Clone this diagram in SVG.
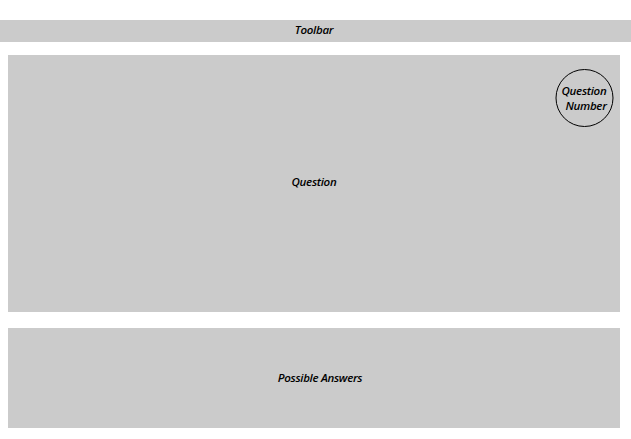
<svg xmlns="http://www.w3.org/2000/svg" width="631" height="439" viewBox="0 0 631 439">
<style>
.box{fill:#cbcbcb;stroke:none}
.lbl{font-family:"Open Sans","Liberation Sans",sans-serif;font-style:italic;font-weight:600;font-size:11.5px;fill:#000;text-anchor:middle;letter-spacing:-0.3px}
</style>
<rect width="631" height="439" fill="#fff"/>
<g id="toolbar">
<rect class="box" x="0" y="20" width="631" height="22"/>
<text class="lbl" x="314" y="34">Toolbar</text>
</g>
<g id="question">
<rect class="box" x="8" y="55" width="612" height="257"/>
<text class="lbl" x="314" y="186">Question</text>
</g>
<g id="question-number">
<circle cx="584.5" cy="98" r="28.5" fill="none" stroke="#000" stroke-width="1"/>
<text class="lbl" x="584" y="95">Question</text>
<text class="lbl" x="586" y="110">Number</text>
</g>
<g id="answers">
<rect class="box" x="8" y="328" width="612" height="100"/>
<text class="lbl" x="320" y="382">Possible Answers</text>
</g>
<g id="connectors"/>
</svg>
